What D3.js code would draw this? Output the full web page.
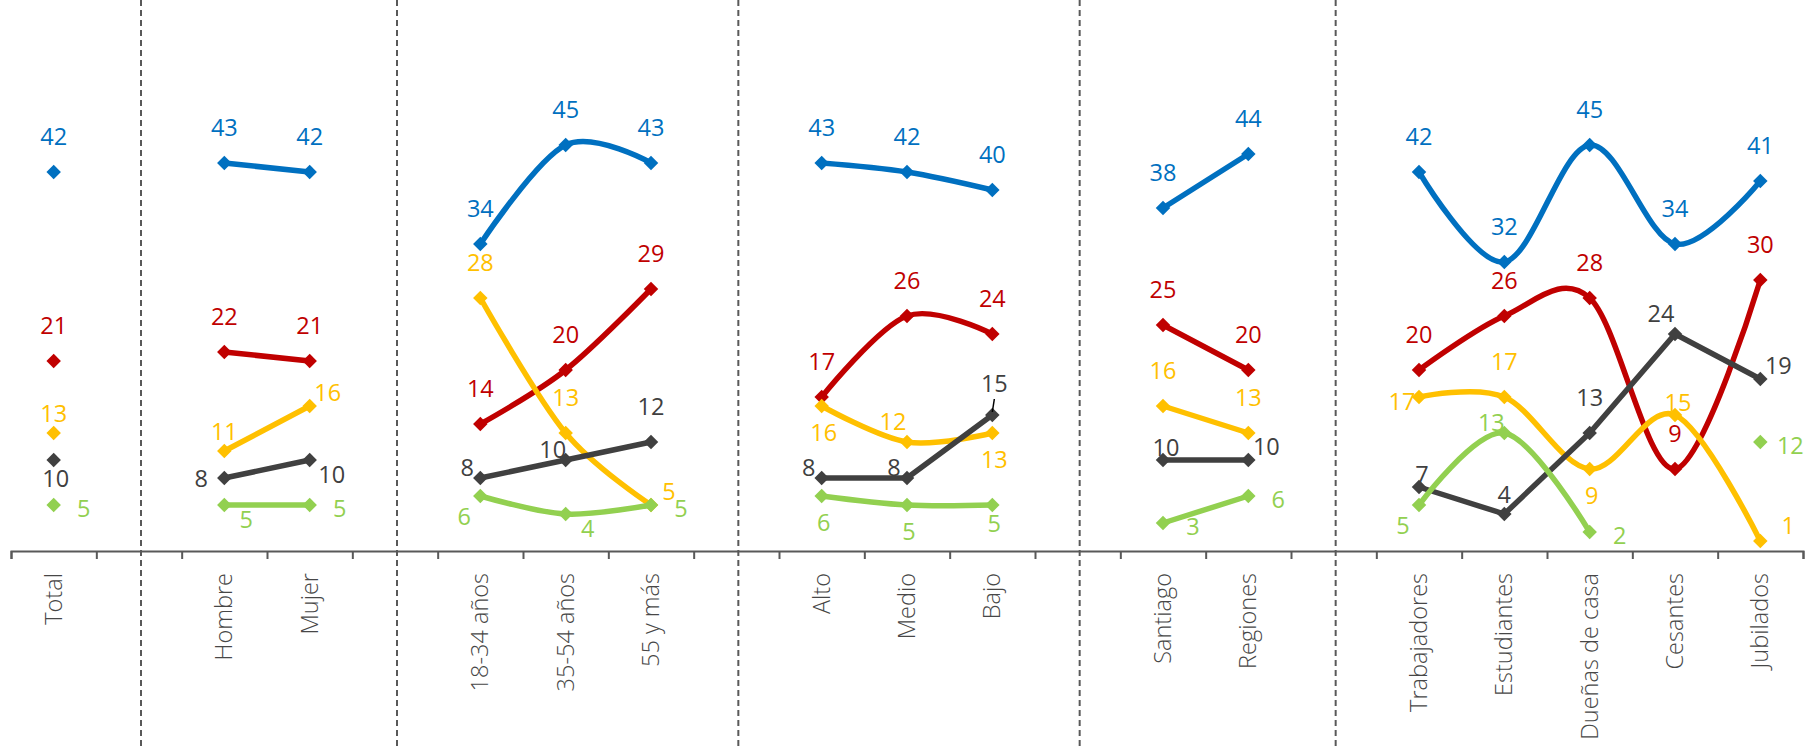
<!DOCTYPE html>
<html>
<head>
<meta charset="utf-8">
<script src="https://cdn.jsdelivr.net/npm/d3@7"></script>
<style>
  body { margin: 0; background: #fff; }
  .axis-label { font-family: "Open Sans", sans-serif; font-size: 23.5px; font-weight: 300; fill: #474747; }
  .data-label { font-family: "Open Sans", sans-serif; font-size: 23.5px; }
</style>
</head>
<body>
<div id="chart"></div>
<script>
// category groups (a blank slot sits between groups)
const groups = [
    ["Total"],
    ["Hombre", "Mujer"],
    ["18-34 años", "35-54 años", "55 y más"],
    ["Alto", "Medio", "Bajo"],
    ["Santiago", "Regiones"],
    ["Trabajadores", "Estudiantes", "Dueñas de casa", "Cesantes", "Jubilados"]
];

// series values, in the order of the categories above
const blueValues   = [42, 43, 42, 34, 45, 43, 43, 42, 40, 38, 44, 42, 32, 45, 34, 41];
const redValues    = [21, 22, 21, 14, 20, 29, 17, 26, 24, 25, 20, 20, 26, 28, 9, 30];
const yellowValues = [13, 11, 16, 28, 13, 5, 16, 12, 13, 16, 13, 17, 17, 9, 15, 1];
const darkValues   = [10, 8, 10, 8, 10, 12, 8, 8, 15, 10, 10, 7, 4, 13, 24, 19];
const greenValues  = [5, 5, 5, 6, 4, 5, 6, 5, 5, 3, 6, 5, 13, 2, null, 12];

// where each data label sits relative to its point
const blueLabels   = ["T","T","T","T","T","T","T","T","T","T","T","T","T","T","T","T"];
const redLabels    = ["T","T","T","T","T","T","T","T","T","T","T","T","T","T","T","T"];
const yellowLabels = ["t","t","tr","T","T","tr","B","Y","B","T","T","L","T","B","tc","TR"];
const darkLabels   = ["b","l","br","tl","tl","T","tl","tl","T*","tc","tr","tc","t","T","Y","tr"];
const greenLabels  = ["r","br","r","bl","br","r","B","B","b","r","r","bl","tl","r",null,"r"];

const width = 1806, height = 750;
const barColor = "#595959";

const labelOffsets = {
    "T": [0, -36], "T*": [2, -32], "t": [0, -20], "b": [2, 18], "B": [2, 26],
    "r": [30, 3], "l": [-23, 0], "tl": [-13, -11], "tr": [18, -14],
    "br": [22, 14], "bl": [-16, 20], "tc": [3, -13], "L": [-17, 4],
    "TR": [28, -16], "Y": [-14, -21]
};

const series = [
    { color: "#0070C0", values: blueValues,   labels: blueLabels,   smooth: true },
    { color: "#C00000", values: redValues,    labels: redLabels,    smooth: true },
    { color: "#FFC000", values: yellowValues, labels: yellowLabels, smooth: true },
    { color: "#404040", values: darkValues,   labels: darkLabels,   smooth: false },
    { color: "#92D050", values: greenValues,  labels: greenLabels,  smooth: true }
];

// slots for the x scale, with spacers between groups
const slots = [];
const gaps = [];
groups.forEach((g, i) => {
    if (i > 0) { slots.push("gap" + i); gaps.push("gap" + i); }
    slots.push(...g);
});
const categories = groups.flat();

const svg = d3.select("#chart")
    .append("svg")
    .attr("width", width)
    .attr("height", height);

const xScale = d3.scaleBand()
    .domain(slots)
    .range([11, 1803]);
const xCenter = c => xScale(c) + xScale.bandwidth() / 2;

const yScale = d3.scaleLinear()
    .domain([0, 60])
    .range([550, 10]);

// dashed separators between the groups
svg.selectAll(".sep")
    .data(gaps)
    .join("line")
        .attr("class", "sep")
        .attr("x1", d => xCenter(d) + 2)
        .attr("x2", d => xCenter(d) + 2)
        .attr("y1", 0)
        .attr("y2", height)
        .attr("stroke", barColor)
        .attr("stroke-width", 2)
        .attr("stroke-dasharray", "6,4");

// x axis: ticks between categories
const tickScale = d3.scaleLinear()
    .domain([0, slots.length])
    .range(xScale.range());
svg.append("g")
    .attr("class", "x-axis")
    .attr("transform", `translate(0, ${yScale(0) + 1})`)
    .call(d3.axisBottom(tickScale)
        .tickValues(d3.range(slots.length + 1))
        .tickFormat("")
        .tickSize(8)
        .tickSizeOuter(8))
    .call(g => g.selectAll("path, line").attr("stroke", barColor).attr("stroke-width", 2));

// category labels, rotated
svg.append("g")
    .selectAll("text")
    .data(categories)
    .join("text")
        .attr("class", "axis-label")
        .attr("text-anchor", "end")
        .attr("transform", d => `translate(${xCenter(d) + 8}, 573) rotate(-90)`)
        .text(d => d);

// lines, one piece per group
series.forEach(s => {
    const pts = categories.map((c, i) => ({ c, v: s.values[i], lab: s.labels[i] }));
    const line = d3.line()
        .defined(d => d.v != null)
        .x(d => xCenter(d.c))
        .y(d => yScale(d.v))
        .curve(s.smooth ? d3.curveCatmullRom.alpha(0) : d3.curveLinear);

    groups.forEach(g => {
        const gp = pts.filter(p => g.includes(p.c));
        if (gp.filter(p => p.v != null).length < 2) return;
        svg.append("path")
            .datum(gp)
            .attr("d", line)
            .attr("fill", "none")
            .attr("stroke", s.color)
            .attr("stroke-width", 5.5)
            .attr("stroke-linejoin", "round")
            .attr("stroke-linecap", "round");
    });

    const valid = pts.filter(p => p.v != null);

    svg.append("g")
        .selectAll("path")
        .data(valid)
        .join("path")
            .attr("d", d3.symbol(d3.symbolSquare, 105))
            .attr("transform", d => `translate(${xCenter(d.c)}, ${yScale(d.v)}) rotate(45)`)
            .attr("fill", s.color);

    s.pts = valid;
});

// data labels on top
series.forEach(s => {
    svg.append("g")
        .selectAll("text")
        .data(s.pts)
        .join("text")
            .attr("class", "data-label")
            .attr("fill", s.color)
            .attr("text-anchor", "middle")
            .attr("dominant-baseline", "central")
            .attr("x", d => xCenter(d.c) + labelOffsets[d.lab][0])
            .attr("y", d => yScale(d.v) + labelOffsets[d.lab][1])
            .text(d => d.v);

    // short leader line where the label was pulled away
    s.pts.filter(d => d.lab === "T*").forEach(d => {
        svg.append("line")
            .attr("x1", xCenter(d.c) + 2)
            .attr("y1", yScale(d.v) - 16)
            .attr("x2", xCenter(d.c))
            .attr("y2", yScale(d.v) - 3)
            .attr("stroke", "#000")
            .attr("stroke-width", 1.5);
    });
});
</script>
</body>
</html>
